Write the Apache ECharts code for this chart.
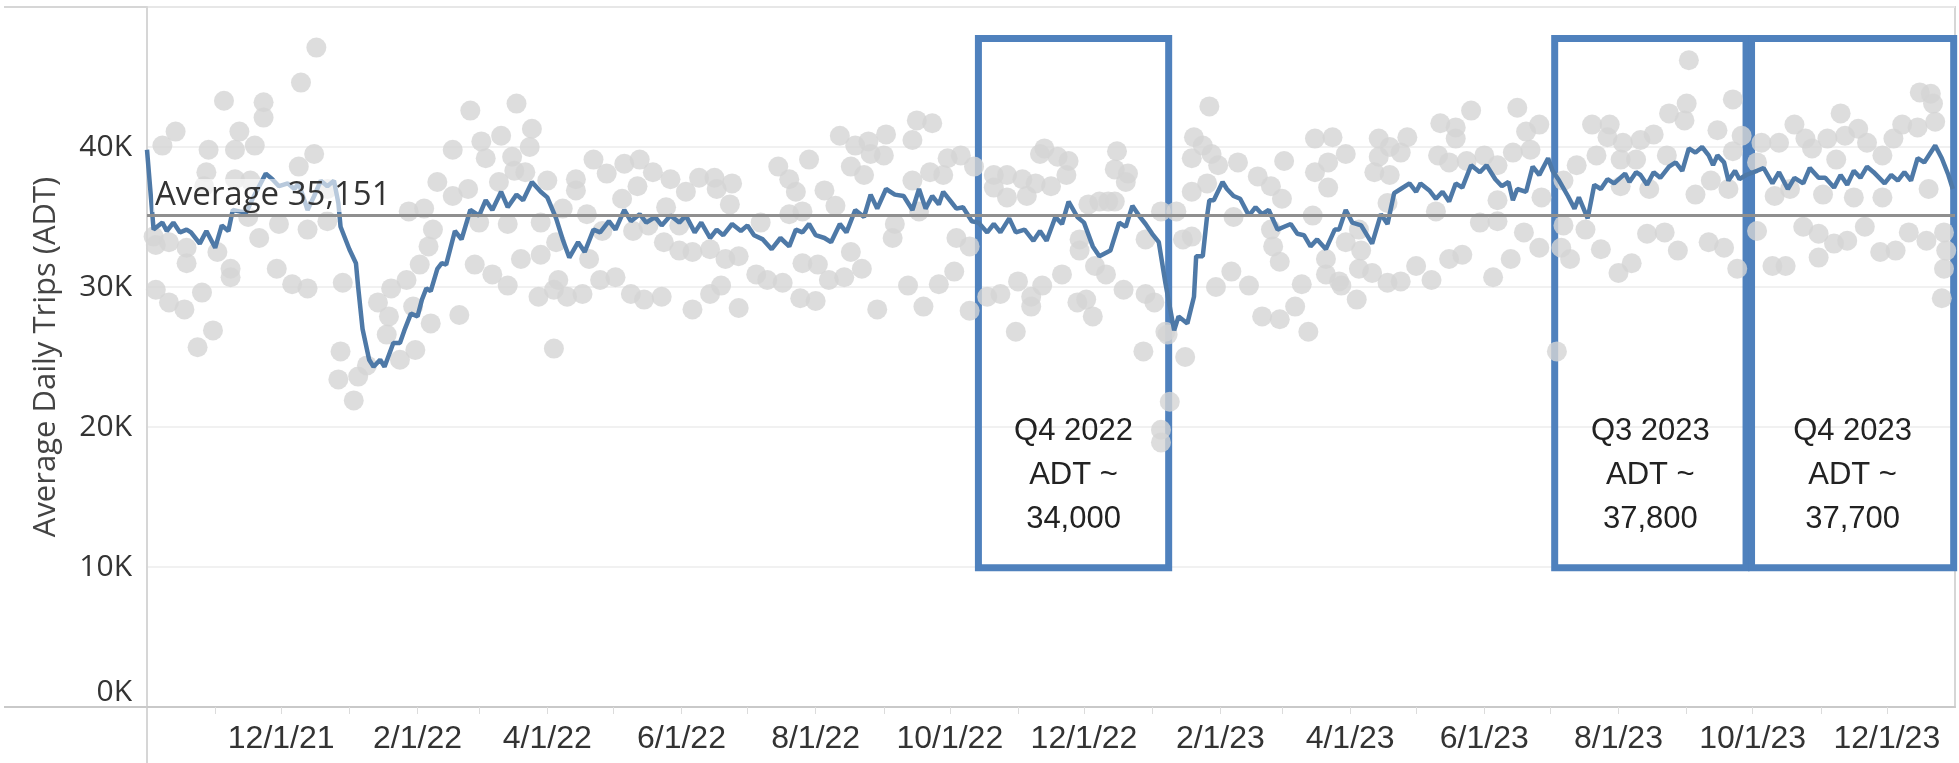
<!DOCTYPE html>
<html>
<head>
<meta charset="utf-8">
<title>Average Daily Trips (ADT)</title>
<script src="https://cdn.jsdelivr.net/npm/echarts@6.0.0/dist/echarts.min.js"></script>
<style>
  html, body { margin: 0; padding: 0; background: #fff; }
  #chart { width: 1959px; height: 763px; }
</style>
</head>
<body>
<div id="chart"></div>
<script>
// x values are days counted from 10/1/21, y values are in thousands of trips
var startUtc = Date.UTC(2021, 9, 1);
var DAY = 864e5;
var axisEndDay = 822;
var averageAdt = 35151;

// daily counts (grey dots)
var daily2021 = [
  [77,47.1],[70,44.6],[35,43.3],[53,43.2],[53,42.1],[13,41.1],[42,41.1],[7,40.1],[28,39.8],[40,39.8],
  [49,40.1],[76,39.5],[27,38.2],[69,38.6],[40,37.7],[47,37.6],[26,37.2],[82,37.0],[3,33.6],[4,33.0],
  [10,33.2],[18,32.8],[32,32.5],[46,35.0],[51,33.5],[60,34.5],[73,34.1],[82,34.7],[18,31.7],[38,31.3],
  [38,30.7],[59,31.3],[66,30.2],[73,29.9],[89,30.3],[4,29.8],[25,29.6],[10,28.9],[17,28.4],[30,26.9],
  [23,25.7],[88,25.4],[87,23.4]
];
var daily2022 = [
  [132,37.5],[119,35.4],[126,35.6],[130,34.1],[128,32.9],[124,31.6],[111,29.9],[118,30.5],[105,28.9],[121,28.6],
  [129,27.4],[110,27.9],[109,26.6],[115,24.8],[122,25.5],[94,21.9],[96,23.6],[100,24.4],
  [147,42.6],[168,43.1],[175,41.3],[174,40.0],[139,39.8],[152,40.4],[161,40.8],[154,39.2],[166,39.3],[167,38.3],
  [172,38.2],[182,37.6],[160,37.5],[195,37.7],[195,36.9],[146,37.0],[139,36.5],[203,39.1],[209,38.1],[217,38.8],
  [224,39.1],[230,38.2],[238,37.7],[223,37.2],[245,36.8],[251,37.8],[258,37.8],[259,37.0],[266,37.4],[216,36.3],
  [265,35.9],[189,35.6],[179,34.6],[164,34.5],[151,34.6],[221,34.0],[228,34.4],[236,35.7],[242,34.4],[207,34.0],
  [200,35.2],[186,33.2],[170,32.0],[179,32.3],[201,32.0],[149,31.6],[157,30.9],[164,30.1],[235,33.2],[242,32.6],
  [248,32.5],[256,32.7],[263,32.0],[269,32.2],[206,30.5],[213,30.7],[187,30.5],[185,29.8],[191,29.3],[198,29.5],
  [178,29.3],[220,29.5],[226,29.1],[234,29.3],[256,29.5],[261,30.1],[248,28.4],[269,28.5],[142,28.0],[185,25.6],
  [350,41.9],[357,41.7],[315,40.8],[322,40.1],[328,40.4],[329,39.5],[336,40.9],[335,39.4],[348,40.5],[301,39.1],
  [287,38.6],[292,37.7],[295,36.8],[320,38.6],[326,38.0],[308,36.9],[364,39.2],[370,39.4],[376,38.6],[356,38.2],
  [362,38.0],[348,37.6],[279,34.6],[292,35.2],[298,35.4],[313,35.8],[340,34.5],[339,33.5],[351,35.4],[368,33.5],
  [374,32.9],[298,31.7],[305,31.6],[320,32.5],[325,31.3],[277,30.9],[282,30.5],[289,30.3],[310,30.5],[317,30.7],
  [346,30.1],[360,30.2],[367,31.1],[297,29.2],[304,29.0],[332,28.4],[353,28.6],[374,28.3],
  [385,38.0],[391,38.0],[398,37.7],[406,39.5],[414,39.3],[419,39.0],[418,38.0],[411,37.2],[404,37.4],[400,36.5],
  [391,36.4],[385,37.1],[441,39.7],[440,38.4],[446,38.1],[445,37.5],[428,35.9],[433,36.1],[440,36.1],[454,33.4],
  [424,33.4],[424,32.6],[431,31.5],[436,30.9],[416,30.9],[407,30.1],[402,29.3],[396,30.4],[388,29.5],[382,29.3],
  [402,28.6],[423,28.9],[427,29.1],[430,27.9],[444,29.8],[454,29.5],[395,26.8],[453,25.4],[437,36.1],[408,39.9]
];
var daily2023 = [
  [461,35.4],[458,28.9],[463,26.8],[472,25.0],[465,21.8],[461,19.8],[461,18.9],[464,26.6],
  [483,42.9],[476,40.7],[480,40.1],[475,39.2],[484,39.5],[487,38.7],[475,36.8],[482,37.4],[468,35.4],[471,33.4],
  [475,33.6],[486,30.0],[493,31.1],[501,30.1],[496,38.9],[505,37.9],[517,39.0],[511,37.2],[516,36.3],[494,35.0],
  [511,34.1],[512,32.9],[515,31.8],[507,27.9],[515,27.7],[522,28.6],[525,30.2],[528,26.8],[531,40.6],[539,40.7],
  [537,38.9],[531,38.2],[537,37.1],[530,35.1],[536,32.0],[536,30.9],[542,30.4],
  [545,39.5],[560,40.6],[565,40.0],[573,40.7],[570,39.6],[560,39.3],[558,38.2],[565,38.0],[564,36.0],[551,34.1],
  [545,33.2],[552,32.6],[551,31.3],[557,31.0],[564,30.3],[570,30.4],[577,31.5],[584,30.5],[543,30.1],[550,29.1],
  [588,41.7],[595,41.4],[602,42.6],[595,40.6],[587,39.4],[592,38.9],[600,39.0],[608,39.4],[614,38.7],[621,39.6],
  [623,42.8],[627,41.1],[633,41.6],[629,39.8],[586,35.4],[606,34.6],[614,34.7],[614,36.2],[626,33.9],[633,32.8],
  [634,36.4],[620,32.0],[612,30.7],[592,32.0],[598,32.3],[641,25.4],
  [657,41.6],[665,41.6],[664,40.7],[671,40.3],[679,40.5],[685,40.9],[650,38.7],[659,39.4],[670,39.1],[677,39.1],
  [692,42.4],[700,43.1],[699,41.9],[701,46.2],[721,43.4],[714,41.2],[721,39.7],[691,39.4],[644,37.6],[670,37.2],
  [683,37.0],[704,36.6],[711,37.6],[719,37.0],[644,34.4],[654,34.1],[643,32.8],[647,32.0],[661,32.7],[682,33.8],
  [690,33.9],[696,32.6],[710,33.2],[717,32.8],[669,31.0],[675,31.7],[723,31.3],[725,40.8],
  [734,40.3],[742,40.3],[749,41.6],[754,40.6],[764,40.6],[770,42.4],[772,40.8],[778,41.3],[782,40.3],[798,41.6],
  [805,41.4],[806,43.9],[811,43.8],[812,43.1],[813,41.8],[794,40.6],[789,39.4],[757,39.9],[768,39.1],[732,38.9],
  [740,36.5],[747,37.0],[762,36.6],[776,36.4],[789,36.4],[810,37.0],[732,34.0],[753,34.3],[760,33.8],[767,33.1],
  [773,33.3],[781,34.3],[801,33.9],[809,33.3],[739,31.5],[745,31.5],[760,32.1],[788,32.5],[795,32.6],[817,33.9],
  [817,31.3],[816,29.2],[818,32.6]
];

// moving average (blue line)
var trend2021 = [
  [0,39.8],[3,34.1],[7,34.6],[9,34.0],[12,34.6],[15,33.9],[18,34.1],[20,33.9],[24,33.1],[27,34.0],
  [31,32.8],[34,34.4],[37,34.0],[39,35.5],[42,35.4],[45,35.3],[48,36.3],[54,38.1],[57,37.7],[60,37.2],
  [64,37.4],[67,37.0],[69,37.4],[73,35.5],[76,36.5],[79,37.6],[82,37.2],[85,37.6],[87,36.0],[88,34.3]
];
var trend2022 = [
  [92,32.7],[95,31.7],[96,30.0],[98,27.0],[101,24.8],[103,24.3],[106,24.8],[108,24.3],[112,26.0],[115,26.0],
  [117,26.9],[120,28.1],[123,27.9],[125,29.1],[127,29.9],[129,29.7],[132,31.3],[134,31.7],[136,31.6],[140,34.0],
  [143,33.4],[147,35.5],[151,35.1],[154,36.2],[157,35.5],[161,36.8],[164,35.7],[168,36.6],[171,36.2],[175,37.5],
  [179,36.8],[182,36.4],[186,34.9],[189,33.4],[192,32.1],[196,33.2],[199,32.5],[203,34.1],[206,33.9],[210,34.7],
  [213,34.1],[217,35.5],[220,34.7],[224,35.2],[227,34.6],[231,35.0],[234,34.4],[238,35.1],[242,34.6],[245,35.1],
  [249,33.9],[252,34.6],[256,33.5],[259,34.1],[262,33.7],[266,34.5],[270,34.0],[273,34.4],[276,33.7],[280,33.4],
  [284,32.7],[288,33.5],[292,32.9],[295,34.1],[298,33.9],[301,34.5],[304,33.7],[308,33.5],[311,33.2],[315,34.5],
  [318,33.9],[322,35.5],[326,35.0],[329,36.6],[332,35.6],[336,37.0],[340,36.6],[344,36.5],[348,35.5],[351,37.0],
  [354,35.6],[357,36.5],[360,35.9],[362,36.8],[366,36.0],[368,35.6],[371,35.7],[375,34.7],[378,34.6],[382,33.9],
  [385,34.5],[388,33.9],[392,34.9],[395,33.9],[399,34.1],[403,33.3],[406,34.0],[409,33.3],[413,35.0],[416,34.5],
  [419,36.1],[423,35.0],[426,34.6],[430,32.9],[433,32.2],[438,32.6],[442,34.6],[445,34.3],[448,35.8],[451,35.1],
  [454,34.5]
];
var trend2023 = [
  [457,33.8],[460,33.2],[463,30.3],[465,28.6],[467,26.9],[469,27.9],[473,27.4],[476,29.3],[477,32.2],[480,32.2],
  [482,35.1],[483,36.2],[485,36.2],[489,37.5],[491,37.0],[494,36.5],[497,36.3],[501,35.1],[504,35.7],[507,35.2],
  [510,35.5],[514,34.1],[517,34.3],[520,34.5],[523,33.8],[526,33.7],[529,32.9],[532,33.4],[536,32.7],[540,34.1],
  [542,34.1],[545,35.5],[548,34.6],[552,34.4],[557,33.1],[561,35.2],[564,34.5],[567,36.7],[570,37.0],[574,37.4],
  [577,36.8],[579,37.4],[583,36.9],[586,36.3],[589,36.8],[592,36.1],[595,37.4],[598,37.1],[602,38.7],[606,38.2],
  [609,38.7],[613,37.7],[616,37.2],[619,37.5],[621,36.2],[623,37.0],[627,36.8],[630,38.6],[633,38.0],[637,39.2],
  [639,38.3],[642,37.6],[646,36.5],[649,35.6],[651,36.4],[655,34.9],[658,37.3],[661,37.0],[664,37.7],[667,37.4],
  [672,38.1],[674,37.5],[677,38.2],[679,38.0],[682,37.3],[685,38.2],[688,37.8],[692,38.6],[695,38.9],[698,38.3],
  [701,39.9],[704,39.6],[707,40.0],[710,39.4],[712,38.7],[714,39.4],[717,38.9],[719,37.6],[722,38.3],[724,37.7],
  [727,38.0],[732,38.3],[735,38.5],[739,37.4],[742,38.2],[746,37.0],[749,37.8],[753,37.4],[756,38.5],[760,37.8],
  [763,37.8],[767,37.1],[770,38.0],[773,37.3],[776,38.3],[779,37.8],[782,38.6],[785,38.2],[790,37.4],[793,38.0],
  [796,37.6],[799,38.2],[802,37.6],[805,39.2],[808,38.9],[813,40.1],[816,39.2],[819,38.0],[821,37.0]
];

// hand-drawn quarter boxes: day range and value range (thousands)
var quarterBoxes = [
  { text: 'Q4 2022\nADT ~\n34,000', from: 378, to: 464.5 },
  { text: 'Q3 2023\nADT ~\n37,800', from: 640, to: 727 },
  { text: 'Q4 2023\nADT ~\n37,700', from: 729.5, to: 821.4 }
];
var boxTopK = 47.75, boxBottomK = 9.95;

function monthStartDays(onlyLabels) {
  var out = [];
  var y = 2021, m = 10;
  while (y < 2024) {
    if (!onlyLabels || m % 2 === 1) out.push(Math.round((Date.UTC(y, m, 1) - startUtc) / DAY));
    m++;
    if (m > 11) { m = 0; y++; }
  }
  return out;
}

function dayLabel(v) {
  var d = new Date(startUtc + v * DAY);
  return (d.getUTCMonth() + 1) + '/' + d.getUTCDate() + '/' + String(d.getUTCFullYear()).slice(2);
}

function toPoints(list) {
  return list.map(function (p) { return [p[0], p[1] * 1000]; });
}

var dots = toPoints(daily2021.concat(daily2022, daily2023));
var trend = toPoints(trend2021.concat(trend2022, trend2023));

var boxAreas = quarterBoxes.map(function (b) {
  return [
    { name: b.text, xAxis: b.from, yAxis: boxTopK * 1000 },
    { xAxis: b.to, yAxis: boxBottomK * 1000 }
  ];
});

var frame = '#d6d6d6';
var myChart = echarts.init(document.getElementById('chart'));

var option = {
  animation: false,
  backgroundColor: '#fff',
  grid: {
    left: 147, right: 4, top: 7, bottom: 56,
    show: true, borderColor: frame, borderWidth: 2,
    containLabel: false, outerBoundsMode: 'none'
  },
  xAxis: {
    type: 'value',
    min: 0,
    max: axisEndDay,
    axisLine: { show: true, onZero: false, lineStyle: { color: '#c9c9c9', width: 2 } },
    axisTick: { show: true, customValues: monthStartDays(false), length: 7, lineStyle: { color: '#dcdcdc', width: 1 } },
    axisLabel: {
      customValues: monthStartDays(true),
      formatter: dayLabel,
      color: '#333',
      fontFamily: 'Liberation Sans',
      fontSize: 32,
      margin: 16
    },
    splitLine: { show: false }
  },
  yAxis: {
    type: 'value',
    min: 0,
    max: 50000,
    interval: 10000,
    name: 'Average Daily Trips (ADT)',
    nameLocation: 'middle',
    nameGap: 85,
    nameTextStyle: { color: '#444', fontFamily: 'Open Sans', fontSize: 31 },
    axisLine: { show: true, lineStyle: { color: frame, width: 2 } },
    axisTick: { show: false },
    axisLabel: {
      formatter: function (v) { return v >= 50000 ? '' : (v / 1000) + 'K'; },
      color: '#333',
      fontFamily: 'Open Sans',
      fontSize: 30,
      margin: 15,
      verticalAlignMinLabel: 'bottom'
    },
    splitLine: { show: true, lineStyle: { color: '#ededed', width: 1.5 } }
  },
  graphic: [
    { type: 'line', silent: true, shape: { x1: 4, y1: 7, x2: 147, y2: 7 }, style: { stroke: frame, lineWidth: 2 } },
    { type: 'line', silent: true, shape: { x1: 4, y1: 707, x2: 147, y2: 707 }, style: { stroke: '#c9c9c9', lineWidth: 2 } },
    { type: 'line', silent: true, shape: { x1: 147, y1: 707, x2: 147, y2: 763 }, style: { stroke: frame, lineWidth: 2 } }
  ],
  series: [
    {
      name: 'Daily',
      type: 'scatter',
      data: dots,
      symbolSize: 20,
      itemStyle: { color: '#d4d4d4' },
      silent: true,
      z: 1
    },
    {
      name: 'Average line',
      type: 'line',
      data: [],
      silent: true,
      z: 2,
      markLine: {
        silent: true,
        symbol: 'none',
        label: { show: false },
        lineStyle: { color: '#8f8f8f', width: 3, type: 'solid' },
        data: [{ yAxis: averageAdt }]
      }
    },
    {
      name: 'Moving average',
      type: 'line',
      data: trend,
      showSymbol: false,
      lineStyle: { color: '#4e79a7', width: 4.5 },
      silent: true,
      z: 3
    },
    {
      name: 'Average label',
      type: 'line',
      data: [],
      silent: true,
      z: 4,
      markLine: {
        silent: true,
        symbol: 'none',
        lineStyle: { color: 'rgba(0,0,0,0)', width: 1 },
        label: {
          show: true,
          position: 'insideStartTop',
          distance: [6, 3],
          formatter: 'Average 35,151',
          color: '#333',
          fontFamily: 'Open Sans',
          fontSize: 33,
          backgroundColor: 'rgba(255,255,255,0.6)',
          padding: [0, 2]
        },
        data: [{ yAxis: averageAdt }]
      }
    },
    {
      name: 'Quarters',
      type: 'line',
      data: [],
      silent: true,
      clip: false,
      z: 5,
      markArea: {
        silent: true,
        itemStyle: { color: 'rgba(0,0,0,0)', borderColor: '#4f81bd', borderWidth: 7 },
        label: {
          show: true,
          position: 'insideBottom',
          distance: 30,
          formatter: function (p) { return p.name; },
          color: '#222',
          fontFamily: 'Liberation Sans',
          fontSize: 31,
          lineHeight: 44,
          align: 'center'
        },
        data: boxAreas
      }
    }
  ]
};

if (option && typeof option === 'object') {
  myChart.setOption(option, true);
}
</script>
</body>
</html>
